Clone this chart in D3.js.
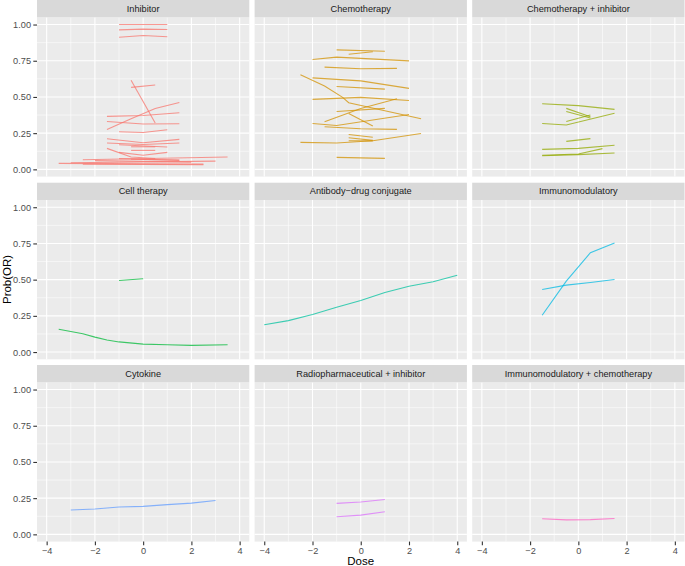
<!DOCTYPE html>
<html>
<head>
<meta charset="utf-8">
<script src="https://cdn.jsdelivr.net/npm/d3@7"></script>
<style>
  html, body { margin: 0; padding: 0; background: #ffffff; }
  svg { display: block; }
</style>
</head>
<body>
<div id="chart"></div>
<script>
// ---------------- DATA ----------------
const categories = [
  "Inhibitor", "Chemotherapy", "Chemotherapy + inhibitor",
  "Cell therapy", "Antibody\u2212drug conjugate", "Immunomodulatory",
  "Cytokine", "Radiopharmaceutical + inhibitor", "Immunomodulatory + chemotherapy"
];
const categoryColors = ["#F8766D", "#D39200", "#93AA00", "#00BA38", "#00C19F", "#00B9E3", "#619CFF", "#DB72FB", "#FF61C3"];
const xTicks = [-4, -2, 0, 2, 4];
const xMinor = [-3, -1, 1, 3];
const yTicks = [0, 0.25, 0.5, 0.75, 1];
const yMinor = [0.125, 0.375, 0.625, 0.875];

// each series: list of [dose, Prob(OR)]
const inhibitorLines = [
  [[-1, 1.0], [0, 1.0], [1, 1.0]],
  [[-1, 0.963], [0, 0.968], [1, 0.966]],
  [[-1, 0.912], [0, 0.924], [1, 0.916]],
  [[-0.5, 0.615], [0.5, 0.32]],
  [[-0.5, 0.566], [0.5, 0.582]],
  [[-1.5, 0.276], [-0.5, 0.35], [0.5, 0.42], [1.5, 0.462]],
  [[-1.5, 0.366], [0, 0.372], [1.5, 0.391]],
  [[-1.5, 0.331], [0, 0.313], [1.5, 0.315]],
  [[-1, 0.26], [0, 0.255], [1, 0.274]],
  [[-1.5, 0.211], [0, 0.184], [1.5, 0.207]],
  [[-1.5, 0.182], [0, 0.172], [1.5, 0.182]],
  [[-1, 0.17], [1, 0.154]],
  [[-0.5, 0.156], [0.5, 0.156]],
  [[-0.5, 0.131], [0.5, 0.131]],
  [[-1.5, 0.145], [-0.5, 0.085], [0.5, 0.075]],
  [[-1, 0.117], [0, 0.097], [1, 0.117]],
  [[-3.5, 0.041], [2.5, 0.036]],
  [[-3, 0.046], [3, 0.057]],
  [[-2.5, 0.066], [3.5, 0.085]],
  [[-2.5, 0.036], [2.5, 0.032]],
  [[-1, 0.074], [1.5, 0.062]],
  [[-2, 0.06], [2, 0.05]],
  [[-0.5, 0.07], [1.5, 0.065]]
];
const chemotherapyLines = [
  [[-1, 0.825], [1, 0.816]],
  [[-0.5, 0.795], [0.5, 0.812]],
  [[-2, 0.759], [-1, 0.775], [2, 0.749]],
  [[-1.5, 0.706], [0, 0.695], [1.5, 0.697]],
  [[-2.5, 0.653], [-1.5, 0.575], [-0.75, 0.497], [-0.5, 0.46], [2.5, 0.349]],
  [[-0.5, 0.385], [0.5, 0.30]],
  [[-2, 0.632], [0, 0.611], [2, 0.559]],
  [[-1, 0.572], [1, 0.554]],
  [[-2, 0.483], [0, 0.497], [2, 0.476]],
  [[-1.5, 0.329], [0, 0.42], [1.5, 0.487]],
  [[-1, 0.4], [1, 0.421]],
  [[-2, 0.317], [-1, 0.303], [2, 0.379]],
  [[-1.5, 0.294], [0, 0.28], [1.5, 0.276]],
  [[-0.5, 0.241], [0.5, 0.222]],
  [[-0.5, 0.218], [0.5, 0.2]],
  [[-0.5, 0.198], [0.5, 0.197]],
  [[-2.5, 0.186], [-1, 0.182], [0.5, 0.198], [2.5, 0.248]],
  [[-1, 0.083], [1, 0.076]]
];
const chemoInhibitorLines = [
  [[-1.5, 0.453], [0, 0.44], [1.5, 0.414]],
  [[-0.5, 0.421], [0.5, 0.363]],
  [[-0.5, 0.400], [0.5, 0.355]],
  [[-1.5, 0.317], [-0.5, 0.306], [1.5, 0.388]],
  [[-0.5, 0.33], [0.5, 0.375]],
  [[-0.5, 0.193], [0.5, 0.212]],
  [[-1.5, 0.138], [0, 0.145], [1.5, 0.166]],
  [[-1.5, 0.094], [0, 0.102], [1.5, 0.113]],
  [[-1.5, 0.097], [0, 0.106], [1, 0.143]]
];
const cellTherapyLines = [
  [[-1, 0.494], [0, 0.506]],
  [[-3.5, 0.157], [-2.5, 0.127], [-2, 0.103], [-1.5, 0.083], [-1, 0.07], [0, 0.055], [1, 0.05], [2, 0.046], [3.5, 0.05]]
];
const adcLines = [
  [[-4, 0.189], [-3, 0.217], [-2, 0.259], [-1, 0.309], [0, 0.356], [1, 0.411], [2, 0.455], [3, 0.485], [4, 0.531]]
];
const immunomodulatoryLines = [
  [[-1.5, 0.254], [-0.5, 0.49], [0.5, 0.686], [1.5, 0.753]],
  [[-1.5, 0.432], [-0.5, 0.462], [0.5, 0.48], [1.5, 0.501]]
];
const cytokineLines = [
  [[-3, 0.168], [-2, 0.175], [-1, 0.189], [0, 0.193], [1, 0.205], [2, 0.216], [3, 0.234]]
];
const radioInhibitorLines = [
  [[-1, 0.214], [0, 0.223], [1, 0.241]],
  [[-1, 0.122], [0, 0.133], [1, 0.156]]
];
const immunoChemoLines = [
  [[-1.5, 0.108], [-0.5, 0.1], [0.5, 0.102], [1.5, 0.11]]
];
const seriesByCategory = [
  inhibitorLines, chemotherapyLines, chemoInhibitorLines,
  cellTherapyLines, adcLines, immunomodulatoryLines,
  cytokineLines, radioInhibitorLines, immunoChemoLines
];

// ---------------- LAYOUT ----------------
const W = 685, H = 566;
const colX = [37, 254.6, 472.2], panelW = 212.3;
const rowY = [17.3, 200, 382.3], panelH = 159.3, stripH = 17.3;
const font = "'Liberation Sans', Arial, Helvetica, sans-serif";

const svg = d3.select("#chart").append("svg")
  .attr("width", W).attr("height", H)
  .attr("font-family", font);
svg.append("rect").attr("width", W).attr("height", H).attr("fill", "#ffffff");

const x = d3.scaleLinear().domain([-4.4, 4.4]).range([0, panelW]);
const y = d3.scaleLinear().domain([-0.05, 1.05]).range([panelH, 0]);
const line = d3.line().x(d => x(d[0])).y(d => y(d[1]));
const minusFmt = d => d < 0 ? "\u2212" + Math.abs(d) : String(d);

categories.forEach((cat, i) => {
  const col = i % 3, row = Math.floor(i / 3);
  const g = svg.append("g").attr("transform", `translate(${colX[col]},${rowY[row]})`);

  g.append("rect").attr("width", panelW).attr("height", panelH).attr("fill", "#EBEBEB");

  // minor grid
  g.selectAll(".vminor").data(xMinor).enter().append("line")
    .attr("x1", d => x(d)).attr("x2", d => x(d)).attr("y1", 0).attr("y2", panelH)
    .attr("stroke", "#ffffff").attr("stroke-width", 0.55);
  g.selectAll(".hminor").data(yMinor).enter().append("line")
    .attr("y1", d => y(d)).attr("y2", d => y(d)).attr("x1", 0).attr("x2", panelW)
    .attr("stroke", "#ffffff").attr("stroke-width", 0.55);
  // major grid
  g.selectAll(".vmajor").data(xTicks).enter().append("line")
    .attr("x1", d => x(d)).attr("x2", d => x(d)).attr("y1", 0).attr("y2", panelH)
    .attr("stroke", "#ffffff").attr("stroke-width", 1.1);
  g.selectAll(".hmajor").data(yTicks).enter().append("line")
    .attr("y1", d => y(d)).attr("y2", d => y(d)).attr("x1", 0).attr("x2", panelW)
    .attr("stroke", "#ffffff").attr("stroke-width", 1.1);

  // strip
  g.append("rect").attr("y", -stripH).attr("width", panelW).attr("height", stripH).attr("fill", "#D9D9D9");
  g.append("text").attr("x", panelW / 2).attr("y", -stripH / 2)
    .attr("text-anchor", "middle").attr("dominant-baseline", "central")
    .attr("font-size", "9.2px").attr("fill", "#1A1A1A").text(cat);

  // series
  g.selectAll(".series").data(seriesByCategory[i]).enter().append("path")
    .attr("d", line)
    .attr("fill", "none")
    .attr("stroke", categoryColors[i])
    .attr("stroke-width", 1.1)
    .attr("stroke-opacity", 0.75);

  // axes
  if (col === 0) {
    const ax = g.append("g").call(d3.axisLeft(y).tickValues(yTicks).tickSize(3.7).tickPadding(2.3).tickFormat(d3.format(".2f")));
    ax.select(".domain").remove();
    ax.selectAll("line").attr("stroke", "#333333").attr("stroke-width", 1.1);
    ax.selectAll("text").attr("font-size", "9.2px").attr("fill", "#4D4D4D").attr("font-family", font);
  }
  if (row === 2) {
    const ax = g.append("g").attr("transform", `translate(0,${panelH})`)
      .call(d3.axisBottom(x).tickValues(xTicks).tickSize(3.7).tickPadding(2.3).tickFormat(minusFmt));
    ax.select(".domain").remove();
    ax.selectAll("line").attr("stroke", "#333333").attr("stroke-width", 1.1);
    ax.selectAll("text").attr("font-size", "9.2px").attr("fill", "#4D4D4D").attr("font-family", font);
  }
});

// axis titles
svg.append("text")
  .attr("x", (colX[0] + colX[2] + panelW) / 2).attr("y", 565)
  .attr("text-anchor", "middle").attr("font-size", "11.5px").attr("fill", "#000000")
  .text("Dose");
svg.append("text")
  .attr("transform", `translate(10.5,${(rowY[0] + rowY[2] + panelH) / 2}) rotate(-90)`)
  .attr("text-anchor", "middle").attr("font-size", "11.5px").attr("fill", "#000000")
  .text("Prob(OR)");
</script>
</body>
</html>
